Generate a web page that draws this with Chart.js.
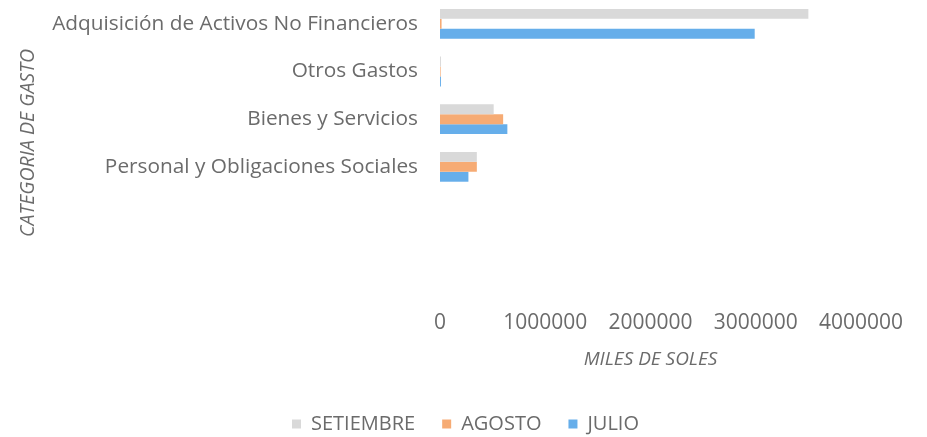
<!DOCTYPE html>
<html>
<head>
<meta charset="utf-8">
<script src="https://cdn.jsdelivr.net/npm/chart.js@4/dist/chart.umd.min.js"></script>
<style>
html,body{margin:0;padding:0;background:#fff;}
#wrap{width:927px;height:437px;position:relative;}
</style>
</head>
<body>
<div id="wrap"><canvas id="c" width="927" height="437"></canvas></div>
<script>
const categories = ["Adquisición de Activos No Financieros", "Otros Gastos", "Bienes y Servicios", "Personal y Obligaciones Sociales", "", ""];
const setiembre = [3500000, 9000, 510000, 350000, null, null];
const agosto = [15000, 6000, 600000, 350000, null, null];
const julio = [2990000, 9000, 640000, 270000, null, null];
const xTicks = [0, 1000000, 2000000, 3000000, 4000000];

const FONT = "'Open Sans', sans-serif";
const TXT = '#6b6b6b';

const legendTweak = {
  id: 'legendTweak',
  beforeLayout(chart) {
    const lg = chart.legend;
    if (lg && !lg._patched) {
      const orig = lg.fit;
      lg.fit = function () { orig.call(this); this.height = 50; };
      lg._patched = true;
    }
  },
  afterLayout(chart) {
    const lg = chart.legend;
    if (lg) { lg.left += 35; lg.right += 35; }
  }
};

new Chart(document.getElementById('c'), {
  type: 'bar',
  data: {
    labels: categories,
    datasets: [
      { label: 'SETIEMBRE', data: setiembre, backgroundColor: '#d9d9d9' },
      { label: 'AGOSTO', data: agosto, backgroundColor: '#f6ab74' },
      { label: 'JULIO', data: julio, backgroundColor: '#66aeea' }
    ]
  },
  plugins: [legendTweak],
  options: {
    indexAxis: 'y',
    responsive: false,
    animation: false,
    layout: { padding: { top: -2, right: 66, left: 0, bottom: 0 } },
    datasets: { bar: { categoryPercentage: 0.625, barPercentage: 1.0 } },
    scales: {
      x: {
        min: 0, max: 4000000,
        afterBuildTicks: (s) => { s.ticks = xTicks.map(v => ({ value: v })); },
        afterFit: (s) => { s.height = 101; s.paddingLeft = 0; s.paddingRight = 0; },
        grid: { display: false, drawTicks: false },
        border: { display: false },
        ticks: { color: TXT, font: { family: FONT, size: 21 }, padding: 24, maxRotation: 0,
                 callback: (v) => String(v) },
        title: { display: true, text: 'MILES DE SOLES', color: TXT,
                 font: { family: FONT, size: 19, style: 'italic' }, padding: { top: 0, bottom: 16 } }
      },
      y: {
        afterFit: (s) => { s.width = 440; s.paddingTop = 0; s.paddingBottom = 0; },
        grid: { display: false, drawTicks: false },
        border: { display: false },
        ticks: { color: TXT, font: { family: FONT, size: 20.8 }, padding: 22, autoSkip: false },
        title: { display: true, text: 'CATEGORIA DE GASTO', color: TXT,
                 font: { family: FONT, size: 19.5, style: 'italic' }, padding: { top: 17, bottom: 0 } }
      }
    },
    plugins: {
      tooltip: { enabled: false },
      legend: {
        position: 'bottom',
        labels: { color: TXT, font: { family: FONT, size: 20 }, boxWidth: 9, boxHeight: 9, padding: 27 }
      }
    }
  }
});
</script>
</body>
</html>
